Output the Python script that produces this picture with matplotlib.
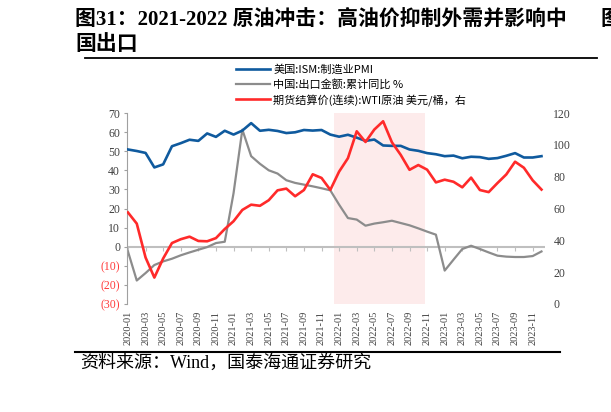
import matplotlib
matplotlib.use('Agg')
from matplotlib import pyplot as plt

plt.rcParams['font.family'] = ['Liberation Serif', 'Noto Sans CJK SC', 'DejaVu Sans']

# months 2020-01 .. 2023-12
months = [f'{y}-{m:02d}' for y in range(2020, 2024) for m in range(1, 13)]

ism_pmi = [50.9, 50.1, 49.1, 41.5, 43.1, 52.6, 54.2, 56.0, 55.4, 59.3, 57.5, 60.7,
           58.7, 60.8, 64.7, 60.7, 61.2, 60.6, 59.5, 59.9, 61.1, 60.8, 61.1, 58.7,
           57.6, 58.6, 57.1, 55.4, 56.1, 53.0, 52.8, 52.8, 50.9, 50.2, 49.0, 48.4,
           47.4, 47.7, 46.3, 47.1, 46.9, 46.0, 46.4, 47.6, 49.0, 46.7, 46.7, 47.4]

china_export = [-2.5, -17.7, -13.8, -9.6, -7.7, -6.3, -4.5, -3.0, -1.6, -0.2, 1.9, 2.6,
                28.0, 61.3, 47.4, 43.4, 40.0, 38.3, 34.8, 33.4, 32.5, 31.6, 30.6, 29.5,
                22.0, 15.0, 14.2, 11.0, 12.1, 12.8, 13.6, 12.4, 11.2, 9.6, 7.9, 6.3,
                -12.5, -6.8, -1.2, 0.5, -1.2, -3.0, -4.7, -5.2, -5.4, -5.4, -4.9, -2.5]

wti = [57.5, 50.5, 29.2, 16.6, 28.6, 38.3, 40.7, 42.3, 39.6, 39.4, 41.4, 47.1,
       52.0, 59.1, 62.4, 61.7, 65.2, 71.4, 72.5, 67.7, 71.6, 81.5, 79.2, 71.7,
       83.2, 91.6, 108.5, 101.8, 109.6, 114.8, 101.6, 93.7, 84.3, 87.3, 84.4, 76.4,
       78.1, 76.8, 73.3, 79.4, 71.6, 70.3, 76.0, 81.4, 89.4, 85.6, 77.7, 71.9]

left_ticks = [-30, -20, -10, 0, 10, 20, 30, 40, 50, 60, 70]
right_ticks = [0, 20, 40, 60, 80, 100, 120]
shade_start, shade_end = 23.4, 33.75

x = list(range(len(months)))

fig = plt.figure(figsize=(6.11, 4.12), dpi=100)

# title and frame texts
bold_font = ['Liberation Serif', 'Noto Sans CJK SC']
fig.text(75 / 611, 1 - 20 / 412, '图31：2021-2022 原油冲击：高油价抑制外需并影响中',
         fontsize=15, fontweight='bold', family=bold_font, va='center', ha='left')
fig.text(75 / 611, 1 - 45 / 412, '国出口',
         fontsize=15, fontweight='bold', family=bold_font, va='center', ha='left')
fig.text(600 / 611, 1 - 20 / 412, '图', fontsize=15, fontweight='bold',
         family=bold_font, va='center', ha='left')
fig.add_artist(plt.Line2D([85 / 611, 597 / 611], [1 - 58 / 412, 1 - 58 / 412],
                          color='black', lw=1.3))
fig.add_artist(plt.Line2D([75 / 611, 560 / 611], [1 - 352 / 412, 1 - 352 / 412],
                          color='black', lw=1.5))
fig.text(80 / 611, 1 - 363 / 412, '资料来源：Wind，国泰海通证券研究',
         fontsize=13, family=['Liberation Serif', 'Noto Sans CJK SC'],
         va='center', ha='left')

ax = fig.add_axes([127 / 611, 1 - 304 / 412, 418 / 611, 191 / 412])
ax2 = ax.twinx()

ax.axvspan(shade_start, shade_end, color='#FDEBEB', lw=0, zorder=0)
ax.axhline(0, color='#BFBFBF', lw=1.5, zorder=1)

l1, = ax.plot(x, ism_pmi, color='#0F5A9E', lw=1.9, solid_joinstyle='round',
              label='美国:ISM:制造业PMI', zorder=3)
l2, = ax.plot(x, china_export, color='#8C8C8C', lw=1.6, solid_joinstyle='round',
              label='中国:出口金额:累计同比 %', zorder=2)
l3, = ax2.plot(x, wti, color='#FF2A2A', lw=1.9, solid_joinstyle='round',
               label='期货结算价(连续):WTI原油 美元/桶，右', zorder=3)

ax.set_xlim(-0.11, 47.4)
ax.set_ylim(-30, 70)
ax2.set_ylim(0, 120)

ax.set_yticks(left_ticks)
ax.set_yticklabels([f'({-v})' if v < 0 else str(v) for v in left_ticks])
for lab, v in zip(ax.get_yticklabels(), left_ticks):
    lab.set_color('#FF3B3B' if v < 0 else '#404040')
ax.tick_params(axis='y', labelsize=8.5, length=2, color='#A0A0A0', pad=3)

ax2.set_yticks(right_ticks)
ax2.tick_params(axis='y', labelsize=8.5, length=0, labelcolor='#404040', pad=6)

ax.set_xticks(x[::2])
ax.set_xticklabels(months[::2], rotation=90, fontsize=7.5, color='#404040')
ax.tick_params(axis='x', length=0, pad=5)

# tick marks on the zero line
sec = ax.secondary_xaxis(0.3)
sec.set_xticks(x[::2])
sec.tick_params(axis='x', length=3, color='#BFBFBF', labelbottom=False)
sec.spines['bottom'].set_visible(False)

for a in (ax, ax2):
    for s in ('top', 'right', 'bottom'):
        a.spines[s].set_visible(False)
ax2.spines['left'].set_visible(False)
ax.spines['left'].set_color('#A0A0A0')

fig.legend(handles=[l1, l2, l3], loc='upper left',
           bbox_to_anchor=(232 / 611, 1 - 60 / 412), frameon=False,
           prop={'family': ['Noto Sans CJK SC', 'DejaVu Sans'], 'size': 8},
           handlelength=3.0, handletextpad=0.3, labelspacing=0.35,
           borderaxespad=0)

fig.savefig('out.png', dpi=100)
